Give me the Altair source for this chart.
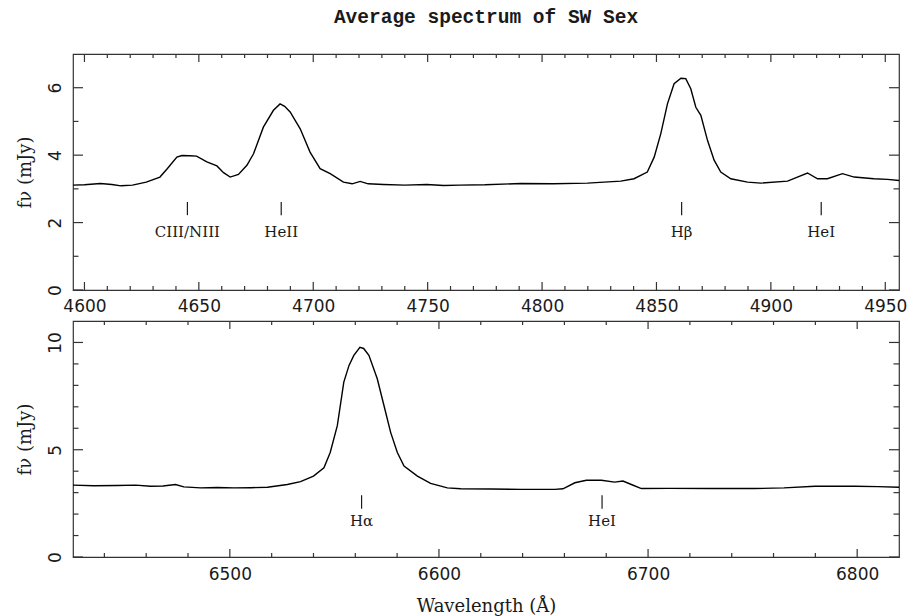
import altair as alt
import pandas as pd

# ---------------- data ----------------
top_wl = [4595, 4600, 4607, 4612, 4616, 4621, 4627, 4633, 4636, 4640.4, 4642.6, 4646, 4649,
          4653.5, 4657.9, 4660.8, 4663.7, 4667.3, 4671, 4673.9, 4678.2, 4682.6, 4685.5, 4687.5,
          4689.9, 4694.3, 4698.6, 4703, 4707.4, 4713.2, 4717, 4720.5, 4724, 4730.7, 4740, 4749.6,
          4757, 4764, 4775, 4790.7, 4805, 4819.8, 4834.4, 4840.2, 4846, 4849, 4851.9, 4854.8,
          4857.7, 4860.7, 4862.8, 4865, 4867.2, 4869.4, 4872.3, 4875.2, 4878.1, 4882.5, 4889.8,
          4895.6, 4907.3, 4911.6, 4916, 4920.4, 4924.7, 4931.3, 4936.4, 4945, 4951, 4956]
top_flux = [3.11, 3.12, 3.16, 3.13, 3.09, 3.11, 3.20, 3.35, 3.58, 3.94, 3.99, 3.98, 3.97,
            3.80, 3.68, 3.48, 3.35, 3.43, 3.70, 4.04, 4.83, 5.33, 5.52, 5.45,
            5.28, 4.78, 4.09, 3.60, 3.45, 3.20, 3.15, 3.22, 3.15, 3.13, 3.11, 3.13,
            3.10, 3.11, 3.12, 3.16, 3.15, 3.17, 3.23, 3.30, 3.50, 3.94, 4.64, 5.52,
            6.12, 6.28, 6.27, 5.97, 5.42, 5.18, 4.44, 3.85, 3.50, 3.30, 3.20,
            3.17, 3.23, 3.35, 3.47, 3.30, 3.30, 3.45, 3.35, 3.30, 3.28, 3.25]

bot_wl = [6425, 6435, 6446, 6455, 6462, 6468, 6474, 6478, 6486, 6494, 6502, 6510, 6518,
          6527.5, 6533.8, 6540, 6545, 6548, 6551.4, 6554.5, 6557, 6559.3, 6562.2, 6564,
          6566.5, 6570.5, 6573.7, 6576.9, 6580.1, 6583.3, 6589.7, 6596, 6604, 6610.4, 6625,
          6639.4, 6655.4, 6659.3, 6665, 6670.5, 6677.7, 6684, 6688, 6692, 6696.8, 6710, 6730,
          6751, 6765, 6779.8, 6799, 6810, 6820]
bot_flux = [3.35, 3.32, 3.33, 3.35, 3.30, 3.31, 3.38, 3.27, 3.22, 3.24, 3.22, 3.23, 3.25,
            3.38, 3.51, 3.77, 4.16, 4.87, 6.12, 8.15, 8.93, 9.40, 9.77, 9.72,
            9.40, 8.31, 7.06, 5.81, 4.87, 4.24, 3.77, 3.43, 3.22, 3.18, 3.17,
            3.15, 3.15, 3.18, 3.46, 3.58, 3.58, 3.49, 3.54, 3.38, 3.19, 3.20, 3.19,
            3.19, 3.22, 3.30, 3.30, 3.28, 3.25]

top_id_names = ["CIII/NIII", "HeII", "H\u03b2", "HeI"]
top_id_wl = [4645, 4686, 4861, 4922]
bot_id_names = ["H\u03b1", "HeI"]
bot_id_wl = [6563, 6678]

top_xmajor = [4600, 4650, 4700, 4750, 4800, 4850, 4900, 4950]
top_xminor = [v for v in range(4600, 4951, 10) if v % 50 != 0]
top_ymajor = [0, 2, 4, 6]
top_yminor = [1, 3, 5]

bot_xmajor = [6500, 6600, 6700, 6800]
bot_xminor = [v for v in range(6440, 6801, 20) if v % 100 != 0]
bot_ymajor = [0, 5, 10]
bot_yminor = [1, 2, 3, 4, 6, 7, 8, 9]

# ---------------- styling ----------------
W, H = 826, 236
FRAME = "#333333"
TXT = "#1a1a1a"
SERIF = "DejaVu Serif"


def panel(wl, flux, xdom, ydom, xmaj, xmin, ymaj, ymin, ids, id_wl, mark_lo, mark_hi, lab_y,
          xtitle=None, xlabpad=8):
    xs = alt.Scale(domain=xdom, nice=False, zero=False)
    ys = alt.Scale(domain=ydom, nice=False, zero=False)
    xaxis = alt.Axis(values=xmaj, format="d", ticks=False, tickSize=0, domain=False, grid=False,
                     labelFont="DejaVu Sans", labelFontSize=17, labelColor=TXT,
                     labelPadding=xlabpad, labelFlush=False,
                     title=xtitle if xtitle else None, titleFont=SERIF, titleFontSize=18,
                     titleFontWeight="normal", titleColor=TXT, titleY=49,
                     titleBaseline="middle")
    yaxis = alt.Axis(values=ymaj, format="d", ticks=False, tickSize=0, domain=False, grid=False,
                     labelFont="DejaVu Sans", labelFontSize=17, labelColor=TXT,
                     labelAngle=270, labelAlign="center", labelBaseline="alphabetic",
                     labelPadding=13, labelFlush=False,
                     title="f\u03bd (mJy)", titleFont=SERIF, titleFontSize=18,
                     titleFontWeight="normal", titleColor=TXT, titleAngle=270,
                     titleX=-48, titleY=H / 2, titleBaseline="middle", titleAlign="center")

    def X(field="wl"):
        return alt.X(f"{field}:Q", scale=xs, axis=xaxis)

    def Y(field="flux"):
        return alt.Y(f"{field}:Q", scale=ys, axis=yaxis)

    df = pd.DataFrame({"wl": wl, "flux": flux})
    line = alt.Chart(df).mark_line(color="black", strokeWidth=1.4).encode(x=X(), y=Y())
    layers = [line]

    for vals, L in [(xmaj, 8), (xmin, 4)]:
        d = pd.DataFrame({"wl": vals})
        b = alt.Chart(d).mark_rule(color=FRAME, strokeWidth=1.2)
        layers.append(b.encode(x=X(), y=alt.value(H), y2=alt.value(H - L)))
        layers.append(b.encode(x=X(), y=alt.value(0), y2=alt.value(L)))
    for vals, L in [(ymaj, 10), (ymin, 5.5)]:
        d = pd.DataFrame({"flux": vals})
        b = alt.Chart(d).mark_rule(color=FRAME, strokeWidth=1.2)
        layers.append(b.encode(y=Y(), x=alt.value(0), x2=alt.value(L)))
        layers.append(b.encode(y=Y(), x=alt.value(W), x2=alt.value(W - L)))

    idf = pd.DataFrame({"wl": id_wl, "name": ids, "lo": [mark_lo] * len(ids),
                        "hi": [mark_hi] * len(ids), "ly": [lab_y] * len(ids)})
    layers.append(alt.Chart(idf).mark_rule(color=TXT, strokeWidth=1.2).encode(
        x=X(), y=Y("lo"), y2="hi:Q"))
    layers.append(alt.Chart(idf).mark_text(font=SERIF, fontSize=15, color=TXT,
                                           baseline="middle", align="center").encode(
        x=X(), y=Y("ly"), text="name:N"))

    return alt.layer(*layers).properties(width=W, height=H)


top = panel(top_wl, top_flux, [4595, 4956], [0, 7], top_xmajor, top_xminor, top_ymajor,
            top_yminor, top_id_names, top_id_wl, 2.22, 2.61, 1.72).properties(
    title=alt.TitleParams("Average spectrum of SW Sex", font="Liberation Mono", fontSize=19.5,
                          fontWeight="bold", color=TXT, anchor="middle", frame="group",
                          offset=11, baseline="alphabetic"))

bottom = panel(bot_wl, bot_flux, [6425, 6820], [0, 11], bot_xmajor, bot_xminor, bot_ymajor,
               bot_yminor, bot_id_names, bot_id_wl, 2.25, 2.88, 1.70,
               xtitle="Wavelength (\u00c5)", xlabpad=9)

chart = alt.vconcat(top, bottom, spacing=4).properties(
    padding={"left": 15, "top": 6, "right": 3, "bottom": 0},
    background="white",
).configure_view(stroke=FRAME, strokeWidth=1.2).configure_axis(grid=False)

chart.save("out.html", embed_options={"renderer": "svg", "actions": False})
